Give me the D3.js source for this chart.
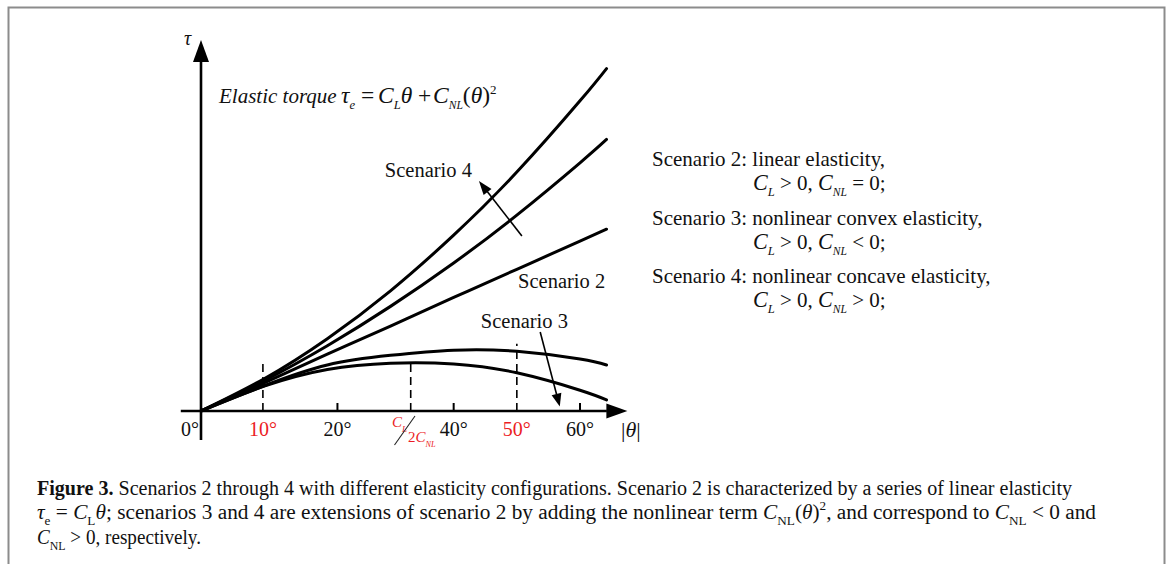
<!DOCTYPE html>
<html><head><meta charset="utf-8">
<script src="https://cdn.jsdelivr.net/npm/d3@7"></script>
<style>body{margin:0;background:#fff}svg{display:block}text{font-family:"Liberation Serif","Times New Roman",serif;fill:#111}</style>
</head><body><svg id="c" width="1171" height="564"></svg>
<script>
// ---- data (θ in degrees, τ in arbitrary schematic units) ----
const thetaPoints = [0, 10, 20, 30, 40, 50, 60, 64.2];
const scenario4Outer = [0, 8.7, 19.5, 32.4, 47.4, 64.4, 83.6, 92.3];
const scenario4Inner = [0, 8.2, 17.6, 28.2, 39.9, 52.8, 66.9, 73.2];
const scenario2 = [0, 7.6, 15.3, 22.9, 30.6, 38.2, 45.8, 49.0];
const scenario3Upper = [0, 6.8, 12.4, 15.0, 16.4, 16.1, 14.0, 12.4];
const scenario3Lower = [0, 6.7, 11.2, 12.9, 12.7, 10.3, 5.6, 3.0];
const tickPositions = [0, 9.8, 21.6, 40, 50, 60];
const tickLabels = ["0°", "10°", "20°", "40°", "50°", "60°"];
const tickHighlighted = [false, true, false, false, true, false];
const tickMarked = [false, false, true, true, false, true];
const dashedPositions = [9.8, 33.2, 50];
const dashedTops = [12.9, 12.9, 18.1];

const RED = "#ec1c24";
const svg = d3.select("#c");

// outer frame
svg.append("rect").attr("x", 8.5).attr("y", 7.5).attr("width", 1156).attr("height", 600)
  .attr("fill", "none").attr("stroke", "#8c8c8c").attr("stroke-width", 2);

const x = d3.scaleLinear().domain([0, 60]).range([201, 580]);
const y = d3.scaleLinear().domain([0, 100]).range([411, 40]);

const g = svg.append("g");

function arrow(p, x1, y1, x2, y2, len, w, sw) {
  const a = Math.atan2(y2 - y1, x2 - x1);
  const bx = x2 - len * Math.cos(a), by = y2 - len * Math.sin(a);
  p.append("line").attr("x1", x1).attr("y1", y1).attr("x2", bx + 0.5 * Math.cos(a)).attr("y2", by + 0.5 * Math.sin(a))
    .attr("stroke", "#000").attr("stroke-width", sw);
  const px = -Math.sin(a) * w / 2, py = Math.cos(a) * w / 2;
  p.append("path").attr("d", `M${x2},${y2}L${bx + px},${by + py}L${bx - px},${by - py}Z`).attr("fill", "#000");
}

function rich(p, x0, y0, segs, size) {
  const t = p.append("text").attr("x", x0).attr("y", y0).style("font-size", size + "px")
    .style("white-space", "pre");
  let shift = 0;
  segs.forEach(s => {
    const target = s.sub ? size * 0.3 : s.sup ? -size * 0.42 : 0;
    const ts = t.append("tspan").attr("dy", (target - shift).toFixed(2)).text(s.t);
    if (s.x != null) ts.attr("x", s.x);
    ts.style("font-style", s.i ? "italic" : "normal");
    if (s.b) ts.style("font-weight", "bold");
    if (s.sub || s.sup) ts.style("font-size", (size * (s.k || 0.62)) + "px");
    else if (s.k) ts.style("font-size", (size * s.k) + "px");
    if (s.fill) ts.style("fill", s.fill);
    shift = target;
  });
  return t;
}

// dashed reference lines
dashedPositions.forEach((d, i) => {
  g.append("line").attr("x1", x(d)).attr("x2", x(d)).attr("y1", y(0)).attr("y2", y(dashedTops[i]))
    .attr("stroke", "#000").attr("stroke-width", 1.6).attr("stroke-dasharray", "8,5");
});

// curves
const line = d3.line().x(d => x(d[0])).y(d => y(d[1])).curve(d3.curveNatural);
[scenario4Outer, scenario4Inner, scenario2, scenario3Upper, scenario3Lower].forEach(s => {
  g.append("path").attr("d", line(thetaPoints.map((t, i) => [t, s[i]])))
    .attr("fill", "none").attr("stroke", "#000").attr("stroke-width", 3).attr("stroke-linecap", "round");
});

// axes
arrow(g, x(-3.2), y(0), x(67.5), y(0), 21, 15, 2.6);
arrow(g, x(0), y(-7.8), x(0), y(100), 22, 16, 2.6);

// small ticks
tickPositions.forEach((d, i) => {
  if (tickMarked[i]) g.append("line").attr("x1", x(d)).attr("x2", x(d)).attr("y1", y(0)).attr("y2", y(0) - 8)
    .attr("stroke", "#000").attr("stroke-width", 2);
});

// tick labels
tickPositions.forEach((d, i) => {
  const t = g.append("text").attr("y", 436).style("font-size", "20px")
    .style("fill", tickHighlighted[i] ? RED : "#111").text(tickLabels[i]);
  if (d === 0) t.attr("x", x(0) - 2).attr("text-anchor", "end");
  else t.attr("x", x(d)).attr("text-anchor", "middle");
});

// C_L / 2C_NL label
rich(g, 392, 427, [{t: "C", i: true, fill: RED}, {t: "L", i: true, sub: true, k: 0.6, fill: RED}], 15);
g.append("line").attr("x1", 415).attr("y1", 416).attr("x2", 394.5).attr("y2", 445).attr("stroke", "#222").attr("stroke-width", 1.1);
rich(g, 408, 442, [{t: "2", fill: RED}, {t: "C", i: true, fill: RED}, {t: "NL", i: true, sub: true, k: 0.55, fill: RED}], 15);

// axis titles
g.append("text").attr("x", 184).attr("y", 45).style("font-size", "20px").style("font-style", "italic").text("τ");
rich(g, 621, 437, [{t: "|"}, {t: "θ", i: true}, {t: "|"}], 22);

// formula
rich(g, 219, 103, [
  {t: "Elastic torque", i: true},
  {t: "τ", i: true, x: 341, k: 1.12},
  {t: "e", i: true, sub: true, k: 0.6},
  {t: "=", x: 361, k: 1.12},
  {t: "C", i: true, x: 378, k: 1.12},
  {t: "L", i: true, sub: true, k: 0.6},
  {t: "θ", i: true, k: 1.12},
  {t: "+", x: 418, k: 1.12},
  {t: "C", i: true, x: 433, k: 1.12},
  {t: "NL", i: true, sub: true, k: 0.55},
  {t: "(", k: 1.12},
  {t: "θ", i: true, k: 1.12},
  {t: ")", k: 1.12},
  {t: "2", sup: true, k: 0.62}
], 21);

// scenario annotations
g.append("text").attr("x", x(29.1)).attr("y", y(63.1)).style("font-size", "20.5px").text("Scenario 4");
g.append("text").attr("x", x(50.2)).attr("y", y(33.2)).style("font-size", "20.5px").text("Scenario 2");
g.append("text").attr("x", x(44.3)).attr("y", y(22.4)).style("font-size", "20.5px").text("Scenario 3");
arrow(g, x(50.8), y(47.2), x(44.0), y(62.0), 14, 10, 1.6);
arrow(g, x(53.7), y(21.3), x(56.8), y(1.2), 13, 10, 1.6);

// legend text
const legend = [
  ["Scenario 2: linear elasticity,", " = 0;"],
  ["Scenario 3: nonlinear convex elasticity,", " < 0;"],
  ["Scenario 4: nonlinear concave elasticity,", " > 0;"]
];
const legendY = [166, 225, 283];
legend.forEach((l, i) => {
  g.append("text").attr("x", 652).attr("y", legendY[i]).style("font-size", "21px").text(l[0]);
  rich(g, 753, legendY[i] + 24, [
    {t: "C", i: true, k: 1.05}, {t: "L", i: true, sub: true, k: 0.6}, {t: " > 0, "},
    {t: "C", i: true, k: 1.05}, {t: "NL", i: true, sub: true, k: 0.55}, {t: l[1]}
  ], 21);
});

// caption
const cap = svg.append("g");
const c1 = rich(cap, 37, 495, [
  {t: "Figure 3.", b: true},
  {t: " Scenarios 2 through 4 with different elasticity configurations. Scenario 2 is characterized by a series of linear elasticity"}
], 20.5);
c1.attr("textLength", 1035).attr("lengthAdjust", "spacingAndGlyphs");
const c2 = rich(cap, 37, 519, [
  {t: "τ", i: true}, {t: "e", sub: true}, {t: " = "}, {t: "C", i: true}, {t: "L", sub: true}, {t: "θ", i: true},
  {t: "; scenarios 3 and 4 are extensions of scenario 2 by adding the nonlinear term "},
  {t: "C", i: true}, {t: "NL", sub: true}, {t: "("}, {t: "θ", i: true}, {t: ")"}, {t: "2", sup: true},
  {t: ", and correspond to "}, {t: "C", i: true}, {t: "NL", sub: true}, {t: " < 0 and"}
], 20.5);
c2.attr("textLength", 1059).attr("lengthAdjust", "spacingAndGlyphs");
const c3 = rich(cap, 37, 544, [
  {t: "C", i: true}, {t: "NL", sub: true}, {t: " > 0, respectively."}
], 20.5);
c3.attr("textLength", 164).attr("lengthAdjust", "spacingAndGlyphs");
</script></body></html>
